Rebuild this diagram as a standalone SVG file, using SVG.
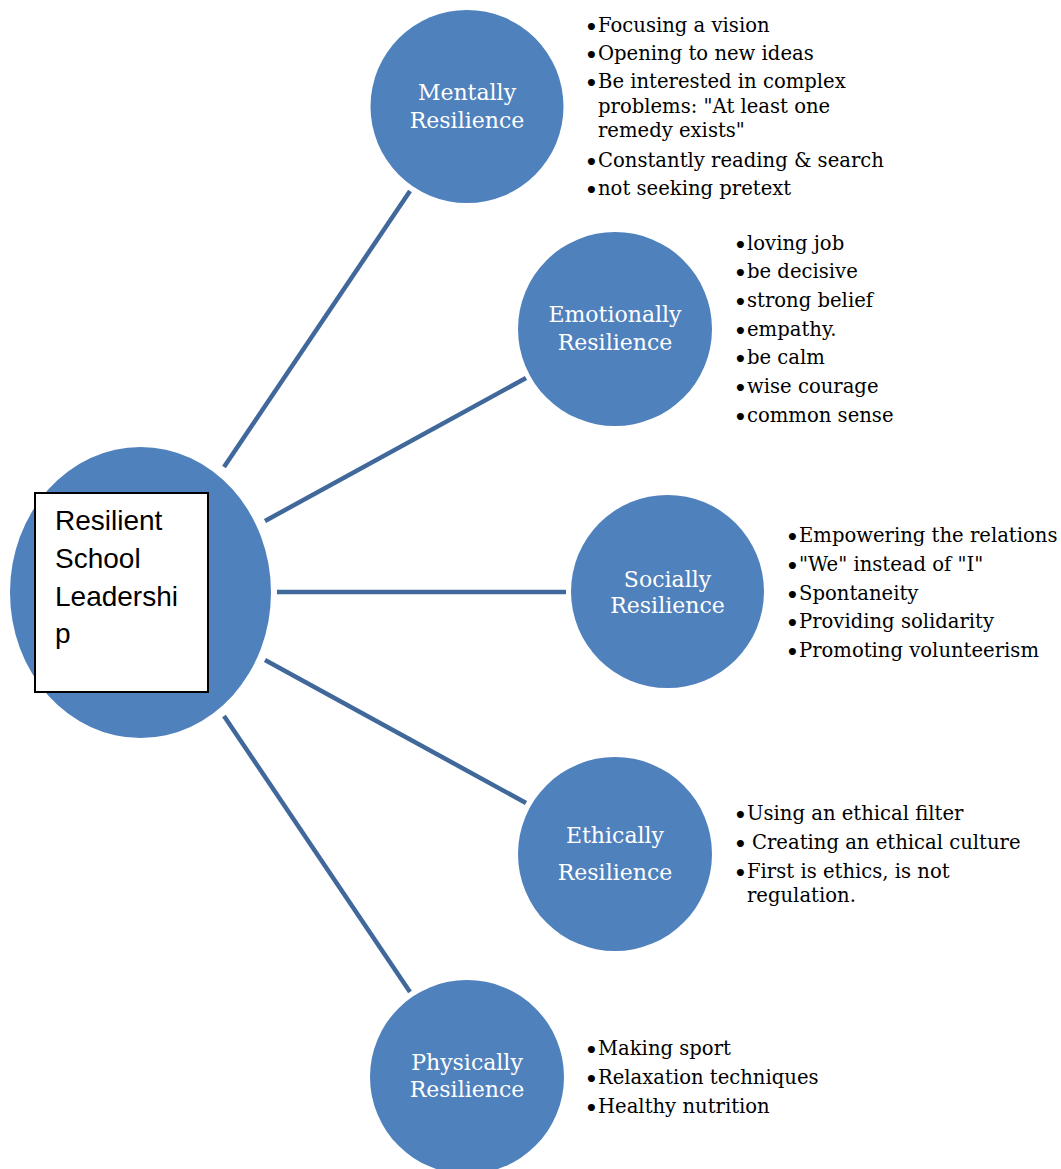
<svg xmlns="http://www.w3.org/2000/svg" width="1061" height="1169" viewBox="0 0 1061 1169">
<style>
.c{fill:#4f81bd}
.lbl{font-family:"DejaVu Serif","Liberation Serif",serif;font-size:22px;fill:#ffffff;text-anchor:middle}
.li{font-family:"DejaVu Serif","Liberation Serif",serif;font-size:19.6px;fill:#000000}
.b{font-family:"DejaVu Sans",sans-serif;font-size:20px;font-weight:bold;baseline-shift:-2px}
.conn line{stroke:#41689b;stroke-width:4.5}
.main{font-family:"Liberation Sans",Arial,sans-serif;font-size:28px;fill:#000000}
</style>
<rect width="1061" height="1169" fill="#ffffff"/>
<g id="connectors" class="conn">
<line x1="224" y1="467" x2="410" y2="191"/>
<line x1="265" y1="521" x2="526" y2="378"/>
<line x1="277" y1="592" x2="566" y2="592"/>
<line x1="265" y1="660" x2="526" y2="803"/>
<line x1="224" y1="716" x2="410" y2="992"/>
</g>
<g id="center">
<ellipse class="c" cx="140.5" cy="592.5" rx="130.5" ry="145.5"/>
<rect x="35" y="493" width="173" height="199" fill="#ffffff" stroke="#000000" stroke-width="2"/>
<text class="main" x="55" y="530">Resilient</text>
<text class="main" x="55" y="568">School</text>
<text class="main" x="55" y="606">Leadershi</text>
<text class="main" x="55" y="643">p</text>
</g>
<g id="mentally">
<circle class="c" cx="467" cy="106.5" r="96.5"/>
<text class="lbl" x="467" y="100">Mentally</text>
<text class="lbl" x="467" y="128">Resilience</text>
<g class="li">
<text x="585" y="32"><tspan class="b">•</tspan><tspan x="598">Focusing a vision</tspan></text>
<text x="585" y="60"><tspan class="b">•</tspan><tspan x="598">Opening to new ideas</tspan></text>
<text x="585" y="88"><tspan class="b">•</tspan><tspan x="598">Be interested in complex</tspan></text>
<text x="598" y="113">problems: "At least one</text>
<text x="598" y="137">remedy exists"</text>
<text x="585" y="167"><tspan class="b">•</tspan><tspan x="598">Constantly reading &amp; search</tspan></text>
<text x="585" y="195"><tspan class="b">•</tspan><tspan x="598">not seeking pretext</tspan></text>
</g>
</g>
<g id="emotionally">
<circle class="c" cx="615" cy="329" r="97"/>
<text class="lbl" x="615" y="322">Emotionally</text>
<text class="lbl" x="615" y="350">Resilience</text>
<g class="li">
<text x="734" y="250"><tspan class="b">•</tspan><tspan x="747">loving job</tspan></text>
<text x="734" y="278"><tspan class="b">•</tspan><tspan x="747">be decisive</tspan></text>
<text x="734" y="307"><tspan class="b">•</tspan><tspan x="747">strong belief</tspan></text>
<text x="734" y="336"><tspan class="b">•</tspan><tspan x="747">empathy.</tspan></text>
<text x="734" y="364"><tspan class="b">•</tspan><tspan x="747">be calm</tspan></text>
<text x="734" y="393"><tspan class="b">•</tspan><tspan x="747">wise courage</tspan></text>
<text x="734" y="422"><tspan class="b">•</tspan><tspan x="747">common sense</tspan></text>
</g>
</g>
<g id="socially">
<circle class="c" cx="667.5" cy="591.5" r="96.5"/>
<text class="lbl" x="667.5" y="587">Socially</text>
<text class="lbl" x="667.5" y="613">Resilience</text>
<g class="li">
<text x="786" y="542"><tspan class="b">•</tspan><tspan x="799">Empowering the relations</tspan></text>
<text x="786" y="571"><tspan class="b">•</tspan><tspan x="799">"We" instead of "I"</tspan></text>
<text x="786" y="600"><tspan class="b">•</tspan><tspan x="799">Spontaneity</tspan></text>
<text x="786" y="628"><tspan class="b">•</tspan><tspan x="799">Providing solidarity</tspan></text>
<text x="786" y="657"><tspan class="b">•</tspan><tspan x="799">Promoting volunteerism</tspan></text>
</g>
</g>
<g id="ethically">
<circle class="c" cx="615" cy="854" r="97"/>
<text class="lbl" x="615" y="843">Ethically</text>
<text class="lbl" x="615" y="880">Resilience</text>
<g class="li">
<text x="734" y="820"><tspan class="b">•</tspan><tspan x="747">Using an ethical filter</tspan></text>
<text x="734" y="849"><tspan class="b">•</tspan><tspan x="752">Creating an ethical culture</tspan></text>
<text x="734" y="878"><tspan class="b">•</tspan><tspan x="747">First is ethics, is not</tspan></text>
<text x="747" y="902">regulation.</text>
</g>
</g>
<g id="physically">
<circle class="c" cx="467" cy="1077" r="97"/>
<text class="lbl" x="467" y="1070">Physically</text>
<text class="lbl" x="467" y="1097">Resilience</text>
<g class="li">
<text x="585" y="1055"><tspan class="b">•</tspan><tspan x="598">Making sport</tspan></text>
<text x="585" y="1084"><tspan class="b">•</tspan><tspan x="598">Relaxation techniques</tspan></text>
<text x="585" y="1113"><tspan class="b">•</tspan><tspan x="598">Healthy nutrition</tspan></text>
</g>
</g>
</svg>
